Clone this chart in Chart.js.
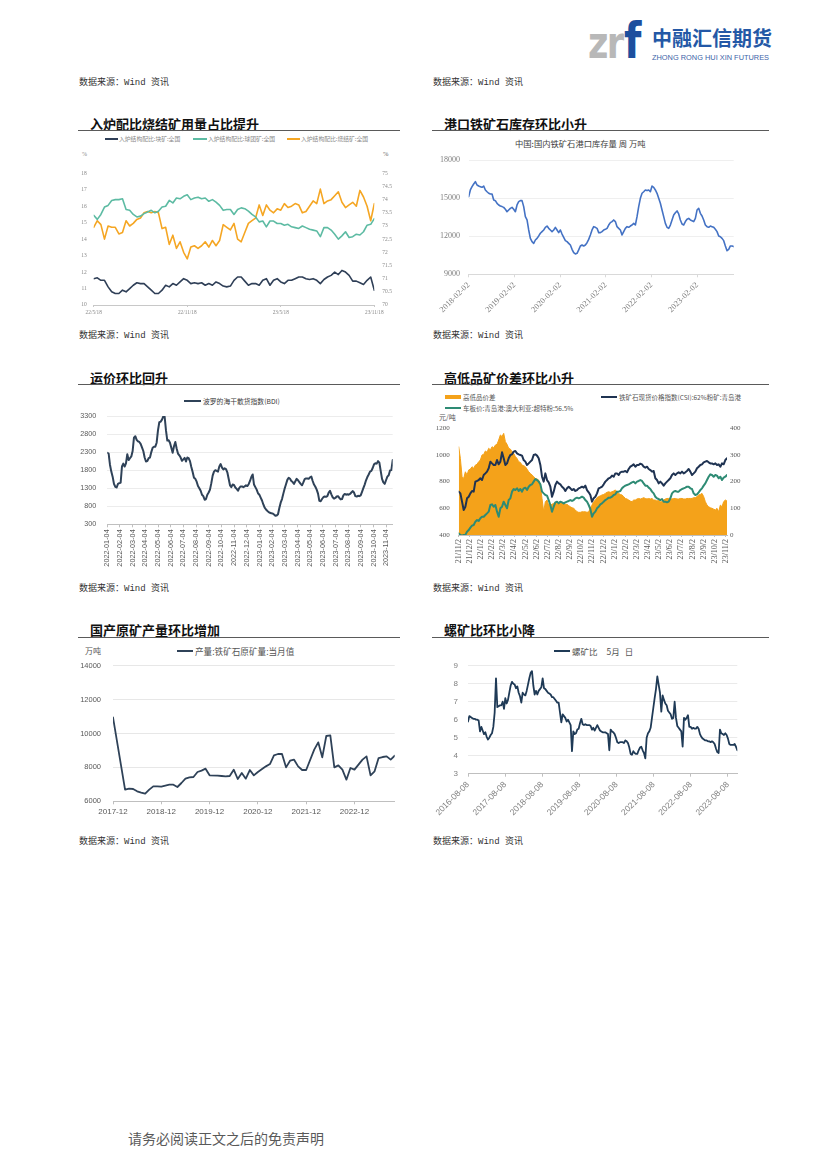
<!DOCTYPE html>
<html><head><meta charset="utf-8">
<script src="https://cdn.jsdelivr.net/npm/chart.js@4.4.1/dist/chart.umd.min.js"></script>
<style>
html,body{margin:0;padding:0;background:#fff;}
body{width:826px;height:1169px;position:relative;overflow:hidden;font-family:"Noto Sans CJK SC",sans-serif;}
.a{position:absolute;white-space:nowrap;line-height:1;}
.src{font-family:"Liberation Mono","Noto Sans CJK SC",monospace;font-size:9px;color:#333;}
.ttl{font-size:13px;font-weight:700;color:#111;}
.rule{position:absolute;height:1px;background:#5a5a5a;}
.cv{position:absolute;}
.mk{position:absolute;height:2px;}
</style></head><body>

<!-- header logo -->
<div class="a" style="left:588px;top:20px;font-family:'DejaVu Sans';font-weight:700;color:#b8b8b8;font-size:45px;transform:scaleX(0.78);transform-origin:0 0;letter-spacing:-2px">zr</div>
<div class="a" style="left:624px;top:15.7px;font-family:'DejaVu Sans';font-weight:700;color:#1d4f9e;font-size:50px;transform:scaleX(0.8);transform-origin:0 0">f</div>
<div class="a" style="left:652px;top:28px;font-size:20px;font-weight:700;color:#2458a6">中融汇信期货</div>
<div class="a" style="left:652px;top:53.5px;font-family:'Liberation Sans';font-size:7.4px;color:#3d64a8">ZHONG RONG HUI XIN FUTURES</div>

<!-- sources -->
<div class="a src" style="left:79px;top:78.5px">数据来源：Wind 资讯</div>
<div class="a src" style="left:433px;top:78.5px">数据来源：Wind 资讯</div>
<div class="a src" style="left:79px;top:331.5px">数据来源：Wind 资讯</div>
<div class="a src" style="left:433px;top:331.5px">数据来源：Wind 资讯</div>
<div class="a src" style="left:79px;top:584.5px">数据来源：Wind 资讯</div>
<div class="a src" style="left:433px;top:584.5px">数据来源：Wind 资讯</div>
<div class="a src" style="left:79px;top:837.5px">数据来源：Wind 资讯</div>
<div class="a src" style="left:433px;top:837.5px">数据来源：Wind 资讯</div>

<!-- section titles -->
<div class="a ttl" style="left:90px;top:116.5px">入炉配比烧结矿用量占比提升</div>
<div class="a ttl" style="left:444px;top:116.5px">港口铁矿石库存环比小升</div>
<div class="rule" style="left:78px;top:130px;width:322px"></div>
<div class="rule" style="left:432px;top:130px;width:337px"></div>
<div class="a ttl" style="left:90px;top:370.5px">运价环比回升</div>
<div class="a ttl" style="left:444px;top:370.5px">高低品矿价差环比小升</div>
<div class="rule" style="left:78px;top:384px;width:322px"></div>
<div class="rule" style="left:432px;top:384px;width:337px"></div>
<div class="a ttl" style="left:90px;top:623px">国产原矿产量环比增加</div>
<div class="a ttl" style="left:444px;top:623px">螺矿比环比小降</div>
<div class="rule" style="left:78px;top:637px;width:322px"></div>
<div class="rule" style="left:432px;top:637px;width:337px"></div>

<!-- chart1 legend -->
<div class="mk" style="left:105px;top:137.7px;width:13px;background:#2f3f57"></div>
<div class="a" style="left:119px;top:135.8px;font-size:5.8px;color:#888">入炉结构配比:块矿:全国</div>
<div class="mk" style="left:193px;top:137.7px;width:14px;background:#5dbba3"></div>
<div class="a" style="left:208px;top:135.8px;font-size:5.8px;color:#888">入炉结构配比:球团矿:全国</div>
<div class="mk" style="left:287px;top:137.7px;width:13px;background:#f5a623"></div>
<div class="a" style="left:301px;top:135.8px;font-size:5.8px;color:#888">入炉结构配比:烧结矿:全国</div>
<div class="a" style="left:82px;top:150.5px;font-family:'Liberation Serif';font-size:6px;color:#888">%</div>
<div class="a" style="left:383px;top:150.5px;font-family:'Liberation Serif';font-size:6.5px;color:#666">%</div>

<!-- chart2 title -->
<div class="a" style="left:515px;top:138.5px;font-size:8.3px;color:#404040">中国:国内铁矿石港口库存量 周 万吨</div>

<!-- chart3 legend -->
<div class="mk" style="left:184px;top:400px;width:17px;background:#2f4258"></div>
<div class="a" style="left:203px;top:397.6px;font-size:6.8px;color:#404040">波罗的海干散货指数(BDI)</div>

<!-- chart4 legend -->
<div class="a" style="left:445px;top:395px;width:16px;height:3.5px;background:#f4a21a"></div>
<div class="a" style="left:463px;top:393.5px;font-size:6.5px;color:#555">高低品价差</div>
<div class="mk" style="left:601px;top:395.7px;width:16px;background:#1f3352"></div>
<div class="a" style="left:619px;top:393.5px;font-size:6.5px;color:#555">铁矿石现货价格指数(CSI):62%粉矿:青岛港</div>
<div class="mk" style="left:445px;top:407.3px;width:16px;background:#2e8b74"></div>
<div class="a" style="left:463px;top:405px;font-size:6.5px;color:#555">车板价:青岛港:澳大利亚:超特粉:56.5%</div>
<div class="a" style="left:439px;top:413.8px;font-size:7px;color:#555">元/吨</div>

<!-- chart5 legend -->
<div class="a" style="left:85px;top:647px;font-size:8px;color:#555">万吨</div>
<div class="mk" style="left:177px;top:649.7px;width:16px;background:#2f4258"></div>
<div class="a" style="left:195px;top:646.5px;font-size:8.6px;color:#555">产量:铁矿石原矿量:当月值</div>

<!-- chart6 legend -->
<div class="mk" style="left:554px;top:649.7px;width:16px;background:#1f3a56"></div>
<div class="a" style="left:572px;top:646.5px;font-size:8.5px;color:#555">螺矿比<span style="margin-left:9px">5月</span><span style="margin-left:5px">日</span></div>

<!-- footer -->
<div class="a" style="left:128px;top:1131px;font-size:14px;color:#595959">请务必阅读正文之后的免责声明</div>

<script>
// ---------------- data ----------------
// Chart 1: weekly 2022-05-18 .. 2023-11-18
const c1TickPos = [0, 26, 52, 78];
const c1TickLabels = ['22/5/18', '22/11/18', '23/5/18', '23/11/18'];
const c1Lump = [11.6,11.65,11.5,11.5,11.1,10.8,10.7,10.7,10.9,10.8,11.0,11.2,11.35,11.3,11.3,11.1,10.9,10.7,10.7,10.9,11.2,11.1,11.3,11.2,11.4,11.6,11.5,11.3,11.35,11.3,11.35,11.2,11.3,11.2,11.4,11.3,11.15,11.1,11.15,11.5,11.7,11.7,11.45,11.2,11.3,11.3,11.2,11.5,11.6,11.2,11.5,11.6,11.4,11.3,11.5,11.5,11.6,11.7,11.7,11.6,11.55,11.6,11.5,11.3,11.55,11.7,11.8,12.0,11.85,12.1,12.0,11.8,11.45,11.45,11.35,11.25,11.5,11.7,10.9];
const c1Pellet = [15.45,15.2,15.5,15.95,16.05,16.35,16.4,16.4,16.45,15.8,15.75,15.5,15.35,15.4,15.55,15.65,15.75,15.6,15.7,15.95,16.0,16.35,16.2,16.5,16.45,16.6,16.7,16.4,16.5,16.55,16.45,16.5,16.3,16.4,16.25,16.05,15.75,15.8,15.8,15.5,15.8,15.9,15.85,15.7,15.5,15.35,15.05,15.1,14.75,15.1,15.1,14.95,14.95,14.85,14.9,14.75,14.7,14.65,14.8,14.7,14.6,14.55,14.5,14.15,14.7,14.7,14.55,14.3,14.0,14.2,14.45,14.1,14.15,14.3,14.25,14.45,14.85,14.9,15.25];
const c1Sinter = [72.95,73.2,73.05,72.5,73.0,72.95,72.95,72.7,72.75,73.2,73.0,73.1,73.25,73.3,73.5,73.55,73.5,73.55,73.5,72.9,72.95,72.3,72.65,72.15,72.4,72.0,71.75,72.2,72.25,72.15,72.25,72.4,72.2,72.45,72.25,72.45,73.05,72.95,72.85,73.1,72.5,72.4,72.75,73.1,73.2,73.3,73.8,73.4,73.8,73.6,73.5,73.65,73.6,73.85,73.7,73.75,73.85,73.8,73.5,73.55,73.75,73.95,73.85,74.4,73.85,73.95,74.0,74.15,74.3,73.9,73.7,73.8,73.9,73.75,74.35,74.1,73.75,73.2,73.85];

// Chart 2: port inventory, samples from 2018-02-02 (27.4 samples per year)
const c2SamplesPerYear = 27.4;
const c2TickLabels = ['2018-02-02','2019-02-02','2020-02-02','2021-02-02','2022-02-02','2023-02-02'];
const c2Inventory = [15114,15640,15900,16110,16300,16030,15950,15900,15850,15950,15640,15500,15380,15320,15320,14850,14800,14590,14460,14380,14330,14270,14120,13930,14060,14190,14270,14120,13930,14460,14720,14800,14800,14330,13540,13280,12490,11830,11570,11440,11700,11830,12020,12230,12360,12490,12700,12800,12620,12490,12360,12490,12700,12490,12280,12490,12170,11910,11650,11570,11440,11310,10970,10710,10600,10650,10920,11230,11310,11230,11310,11490,11750,12100,12490,12750,12700,12620,12280,12280,12360,12490,12540,12620,12880,13070,13150,13280,13150,12750,12620,12490,12100,12360,12620,12750,12700,12800,12880,13010,12880,13540,14330,14980,15380,15500,15640,15590,15640,15500,15950,15850,15640,15380,14980,14590,14060,13540,13010,12700,12620,12880,13280,13670,13850,13990,13750,13280,12960,12880,13150,13330,13400,13280,13220,13150,13400,14060,14200,13800,13590,13280,12880,12750,12700,12800,12750,12700,12540,12360,12020,11960,11830,11650,11230,10860,10970,11230,11230,11180];

// Chart 3: BDI, samples from 2022-01-04 (9.51 samples per month)
const c3SamplesPerMonth = 9.51;
const c3TickLabels = ['2022-01-04','2022-02-04','2022-03-04','2022-04-04','2022-05-04','2022-06-04','2022-07-04','2022-08-04','2022-09-04','2022-10-04','2022-11-04','2022-12-04','2023-01-04','2023-02-04','2023-03-04','2023-04-04','2023-05-04','2023-06-04','2023-07-04','2023-08-04','2023-09-04','2023-10-04','2023-11-04'];
const c3BDI = [2280,2260,1950,1760,1620,1420,1340,1320,1420,1440,1450,1900,1980,1900,1990,2240,2080,2130,2180,2330,2700,2740,2640,2600,2580,2530,2430,2330,2150,2040,2050,2130,2150,2300,2420,2450,2450,2560,2900,3130,3140,3200,3290,3280,2900,2620,2630,2560,2420,2280,2460,2580,2400,2260,2210,2150,2060,2100,2140,2040,2150,2130,2050,1890,1750,1590,1560,1480,1360,1300,1230,1120,1080,980,1000,1120,1180,1260,1440,1650,1760,1800,1780,1760,1900,1970,1870,1820,1850,1830,1740,1560,1380,1330,1400,1390,1320,1280,1230,1310,1350,1350,1330,1350,1380,1360,1410,1500,1610,1680,1400,1330,1260,1160,1120,1040,960,850,760,710,670,640,620,605,600,570,540,545,580,750,900,1000,1150,1290,1410,1530,1590,1560,1500,1470,1420,1490,1560,1520,1470,1420,1380,1460,1550,1570,1570,1560,1600,1620,1500,1400,1340,1260,1150,950,940,1000,1050,1070,1060,1080,1180,1230,1130,1050,1010,1030,1070,1080,1030,990,1000,1100,1140,1120,1130,1120,1140,1180,1220,1180,1080,1070,1090,1080,1100,1200,1300,1400,1520,1610,1680,1760,1780,1860,1960,1990,1980,2050,2010,1780,1560,1460,1420,1520,1620,1660,1790,1800,2080];

// Chart 4: samples from 2021-11-02 (6.68 samples per month)
const c4SamplesPerMonth = 6.68;
const c4TickLabels = ['21/11/2','21/12/2','22/1/2','22/2/2','22/3/2','22/4/2','22/5/2','22/6/2','22/7/2','22/8/2','22/9/2','22/10/2','22/11/2','22/12/2','23/1/2','23/2/2','23/3/2','23/4/2','23/5/2','23/6/2','23/7/2','23/8/2','23/9/2','23/10/2','23/11/2'];
const c4CSI62 = [725,712,650,587,612,675,687,712,730,725,800,805,812,825,812,850,862,875,900,950,937,925,925,962,930,950,1020,975,925,937,975,1000,1005,1025,1030,1012,1005,1000,995,962,950,925,937,950,962,1000,1005,995,975,925,837,800,862,812,795,762,687,725,775,800,787,780,762,750,730,750,762,750,737,745,730,737,750,755,762,755,770,737,720,700,650,675,687,712,750,755,762,780,800,812,825,830,845,837,862,862,850,870,875,875,880,870,895,912,920,930,912,925,925,935,930,912,905,912,895,887,875,880,825,812,787,800,787,770,787,800,812,825,850,862,850,862,870,862,875,862,870,880,895,875,850,862,875,900,912,925,930,945,950,955,945,937,937,930,937,925,930,912,937,930,962,975];
const c4SSF = [412,400,395,400,400,425,437,455,470,475,500,512,505,525,537,537,550,562,575,625,630,612,625,575,537,600,612,650,625,600,662,675,725,745,737,750,730,745,725,750,755,737,762,775,780,800,820,812,800,780,725,712,700,695,662,625,575,612,645,650,637,650,645,637,645,650,655,662,655,662,675,680,675,680,687,680,662,650,625,595,537,562,575,600,612,630,637,650,662,670,680,680,687,700,705,725,725,730,750,762,770,775,780,787,795,800,787,800,805,812,805,787,770,770,755,745,725,712,687,675,670,662,670,650,650,645,650,675,712,725,730,725,725,737,745,750,755,762,762,750,745,712,700,705,720,737,750,770,787,812,837,855,850,837,850,845,825,837,812,830,837,850];
const c4Spread = [331,287,219,212,237,225,244,247,256,250,262,265,275,281,300,302,315,310,325,319,331,327,337,340,356,375,369,381,350,340,325,322,312,306,294,287,275,272,262,260,256,247,237,231,225,219,212,210,206,187,137,87,125,131,112,112,115,119,122,125,122,125,122,119,115,115,110,106,102,100,94,87,85,85,87,87,87,85,87,100,112,125,131,140,144,147,150,152,156,160,162,160,162,165,169,162,156,152,150,144,137,135,131,127,125,131,131,135,137,135,137,140,137,135,137,135,137,131,131,127,131,125,125,131,135,137,137,135,135,137,137,135,135,137,137,135,135,137,137,137,137,140,140,144,150,152,156,144,125,112,106,102,100,97,94,100,87,112,106,125,131,127];

// Chart 5: monthly 2017-12 .. 2023-10 (null = no release)
const c5TickPos = [0, 12, 24, 36, 48, 60];
const c5TickLabels = ['2017-12','2018-12','2019-12','2020-12','2021-12','2022-12'];
const c5Output = [10953,null,null,6687,6746,6726,6588,6510,6451,6687,6883,6883,6864,null,6981,6981,6844,7080,7335,7414,7433,7728,7807,7925,7532,null,7512,7492,7472,7492,7866,7315,7669,7335,7846,7532,7728,null,8062,8200,8711,8790,8790,8003,8397,8456,8062,7846,7846,null,9045,9478,8593,9852,9891,8003,8121,7866,7276,7964,7866,null,8456,8653,7532,7768,8554,8613,8653,8456,8692];

// Chart 6: samples from 2016-08-08 (27.86 samples per year)
const c6SamplesPerYear = 27.86;
const c6TickLabels = ['2016-08-08','2017-08-08','2018-08-08','2019-08-08','2020-08-08','2021-08-08','2022-08-08','2023-08-08'];
const c6Ratio = [5.9,6.2,6.15,6.1,6.05,6.05,6.0,6.0,5.95,5.35,5.6,5.4,5.2,5.3,5.05,4.9,5.0,5.15,5.25,5.6,6.4,8.3,6.7,6.75,6.8,6.8,7.0,6.6,7.2,6.9,7.1,7.5,7.9,8.1,8.0,7.95,7.75,7.85,7.5,7.3,6.95,7.5,7.4,7.35,7.6,7.95,8.3,8.6,8.7,7.9,7.4,7.6,7.4,7.6,7.7,7.8,8.3,7.75,7.7,7.6,7.5,7.45,7.4,7.25,7.25,7.15,7.05,6.95,6.95,6.4,5.85,6.3,6.2,6.1,5.9,6.0,5.85,5.7,4.25,5.35,5.2,5.25,5.45,5.5,5.8,6.05,5.75,5.7,5.75,5.7,5.7,5.7,5.65,5.45,5.55,5.4,5.55,5.7,5.55,5.4,5.35,5.3,5.3,5.3,5.25,5.2,4.3,5.45,5.35,5.3,5.2,5.0,4.75,4.7,4.75,4.75,4.75,4.7,4.85,4.8,4.7,4.45,4.1,4.05,4.25,4.15,4.1,4.1,4.3,4.45,4.5,4.3,4.15,3.85,5.0,5.25,5.35,5.55,6.1,6.65,7.2,7.7,8.4,7.95,7.5,6.45,7.35,7.1,6.9,6.8,6.5,6.4,6.3,6.05,6.1,7.0,6.1,5.65,5.55,5.45,5.35,4.5,6.1,6.0,6.1,6.25,5.6,5.6,5.5,5.55,5.5,5.5,5.6,5.5,5.2,5.05,4.95,4.9,4.85,4.85,4.8,4.8,4.75,4.8,4.75,4.65,4.4,4.2,4.15,5.45,5.25,5.2,5.15,5.25,5.15,4.95,4.65,4.6,4.6,4.6,4.65,4.5,4.3];

// ---------------- helpers ----------------
const pts = arr => arr.map((v, i) => ({x: i, y: v}));
const CLEAR = 'rgba(0,0,0,0)';
function mkCanvas(b) {
  const d = document.createElement('div');
  d.className = 'cv';
  d.style.cssText = `left:${b.x}px;top:${b.y}px;width:${b.w}px;height:${b.h}px`;
  const c = document.createElement('canvas');
  d.appendChild(c);
  document.body.appendChild(d);
  return c;
}
function xAxis(o) {
  return {
    type: 'linear', min: o.min, max: o.max, offset: false,
    afterBuildTicks: s => { s.ticks = o.pos.map(v => ({value: v})); },
    afterFit: s => { s.height = o.h; },
    ticks: {autoSkip: false, minRotation: o.rot, maxRotation: o.rot, padding: o.pad, color: o.color,
            font: {size: o.size, family: o.family}, callback: (v, i) => o.labels[i]},
    grid: {display: true, drawOnChartArea: false, drawTicks: true, tickLength: o.tl, color: o.axis, lineWidth: 1},
    border: {display: true, color: o.axis, width: 1}
  };
}
function yAxis(o) {
  return {
    type: 'linear', position: o.position || 'left', min: o.min, max: o.max,
    afterBuildTicks: s => {
      const t = [];
      for (let v = o.min; v <= o.max + 1e-9; v += o.step) t.push({value: +v.toFixed(4)});
      s.ticks = t;
    },
    afterFit: s => { s.width = o.w; },
    ticks: {padding: 0, color: o.color, font: {size: o.size, family: o.family}, callback: v => String(v)},
    grid: {display: true, color: o.grid || CLEAR, drawTicks: true, tickLength: o.pad, tickColor: CLEAR, lineWidth: 1},
    border: {display: false}
  };
}
function baseOpts(pad, scales) {
  return {
    responsive: true, maintainAspectRatio: false, animation: false, events: [],
    layout: {padding: pad},
    plugins: {legend: {display: false}, tooltip: {enabled: false}},
    elements: {point: {radius: 0}, line: {tension: 0, borderJoinStyle: 'round', borderCapStyle: 'round'}},
    scales
  };
}
const periodTicks = (n, per) => Array.from({length: n}, (_, k) => k * per);

// ---------------- chart 1 ----------------
new Chart(mkCanvas({x: 78, y: 145, w: 320, h: 173}), {
  type: 'line',
  data: {datasets: [
    {data: pts(c1Lump), borderColor: '#2f3f57', borderWidth: 1.6, yAxisID: 'y'},
    {data: pts(c1Pellet), borderColor: '#5dbba3', borderWidth: 1.6, yAxisID: 'y'},
    {data: pts(c1Sinter), borderColor: '#f5a623', borderWidth: 1.6, yAxisID: 'y2'}
  ]},
  options: baseOpts({top: 28.3, right: 0, left: 0, bottom: 0}, {
    x: xAxis({min: 0, max: 78, pos: c1TickPos, labels: c1TickLabels, rot: 0, h: 13, pad: 2, tl: 2,
              size: 5.3, family: 'Liberation Serif', color: '#888', axis: '#c8c8c8'}),
    y: yAxis({min: 10, max: 18, step: 1, w: 15.7, pad: 7, size: 5.5, family: 'Liberation Serif', color: '#888'}),
    y2: yAxis({position: 'right', min: 70, max: 75, step: 0.5, w: 23.7, pad: 8, size: 5.5, family: 'Liberation Serif', color: '#888'})
  })
});

// ---------------- chart 2 ----------------
new Chart(mkCanvas({x: 432, y: 150, w: 338, h: 168}), {
  type: 'line',
  data: {datasets: [{data: pts(c2Inventory), borderColor: '#4472c4', borderWidth: 1.6}]},
  options: baseOpts({top: 10, right: 36.3, left: 0, bottom: 0}, {
    x: xAxis({min: 0, max: c2Inventory.length - 1, pos: periodTicks(c2TickLabels.length, c2SamplesPerYear),
              labels: c2TickLabels, rot: 45, h: 43.7, pad: 3, tl: 3, size: 8.3, family: 'Liberation Serif',
              color: '#7f7f7f', axis: '#d9d9d9'}),
    y: yAxis({min: 9000, max: 18000, step: 3000, w: 36.7, pad: 8.7, size: 8, family: 'Liberation Serif',
              color: '#7f7f7f', grid: '#efefef'})
  })
});

// ---------------- chart 3 ----------------
new Chart(mkCanvas({x: 78, y: 390, w: 320, h: 182}), {
  type: 'line',
  data: {datasets: [{data: pts(c3BDI), borderColor: '#2f4258', borderWidth: 2}]},
  options: baseOpts({top: 26, right: 5.3, left: 0, bottom: 0}, {
    x: xAxis({min: 0, max: c3BDI.length - 1, pos: periodTicks(c3TickLabels.length, c3SamplesPerMonth),
              labels: c3TickLabels, rot: 90, h: 47.7, pad: 2, tl: 3, size: 7.3, family: 'Liberation Sans',
              color: '#595959', axis: '#bfbfbf'}),
    y: yAxis({min: 300, max: 3300, step: 500, w: 29.3, pad: 11, size: 7.2, family: 'Liberation Sans',
              color: '#595959', grid: '#ececec'})
  })
});

// ---------------- chart 4 ----------------
new Chart(mkCanvas({x: 432, y: 420, w: 330, h: 158}), {
  type: 'line',
  data: {datasets: [
    {data: pts(c4CSI62), borderColor: '#1f3352', borderWidth: 2, yAxisID: 'y', order: 1},
    {data: pts(c4SSF), borderColor: '#2e8b74', borderWidth: 2, yAxisID: 'y', order: 2},
    {data: pts(c4Spread), borderColor: '#f4a21a', backgroundColor: '#f4a21a', borderWidth: 1,
     fill: 'origin', yAxisID: 'y2', order: 3}
  ]},
  options: baseOpts({top: 8.3, right: 0, left: 0, bottom: 0}, {
    x: xAxis({min: 0, max: c4Spread.length - 1, pos: periodTicks(c4TickLabels.length, c4SamplesPerMonth),
              labels: c4TickLabels, rot: 90, h: 43, pad: 2, tl: 2, size: 8, family: 'Liberation Serif',
              color: '#595959', axis: '#bfbfbf'}),
    y: yAxis({min: 400, max: 1200, step: 200, w: 26.7, pad: 9, size: 7, family: 'Liberation Serif', color: '#595959'}),
    y2: yAxis({position: 'right', min: 0, max: 400, step: 100, w: 35, pad: 3, size: 7, family: 'Liberation Serif', color: '#595959'})
  })
});

// ---------------- chart 5 ----------------
new Chart(mkCanvas({x: 78, y: 656, w: 320, h: 166}), {
  type: 'line',
  data: {datasets: [{data: pts(c5Output), borderColor: '#2f4258', borderWidth: 1.8, spanGaps: true}]},
  options: baseOpts({top: 9.7, right: 3.3, left: 0, bottom: 0}, {
    x: xAxis({min: 0, max: c5Output.length - 1, pos: c5TickPos, labels: c5TickLabels, rot: 0, h: 20.7,
              pad: 3, tl: 3, size: 8, family: 'Liberation Sans', color: '#595959', axis: '#bfbfbf'}),
    y: yAxis({min: 6000, max: 14000, step: 2000, w: 35, pad: 12, size: 7.5, family: 'Liberation Sans',
              color: '#595959', grid: '#e7e7e7'})
  })
});

// ---------------- chart 6 ----------------
new Chart(mkCanvas({x: 432, y: 656, w: 338, h: 166}), {
  type: 'line',
  data: {datasets: [{data: pts(c6Ratio), borderColor: '#1f3a56', borderWidth: 1.8}]},
  options: baseOpts({top: 9.7, right: 32.7, left: 0, bottom: 0}, {
    x: xAxis({min: 0, max: c6Ratio.length - 1, pos: periodTicks(c6TickLabels.length, c6SamplesPerYear),
              labels: c6TickLabels, rot: 45, h: 48.3, pad: 3, tl: 3, size: 8.5, family: 'Liberation Sans',
              color: '#7f7f7f', axis: '#bfbfbf'}),
    y: yAxis({min: 3, max: 9, step: 1, w: 36, pad: 10, size: 8, family: 'Liberation Sans',
              color: '#7f7f7f', grid: '#eaeaea'})
  })
});
</script>
</body></html>
